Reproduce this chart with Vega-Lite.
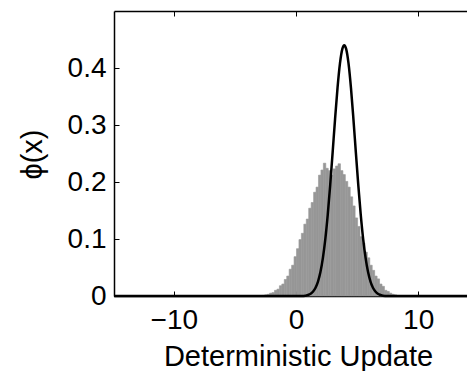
{
  "$schema": "https://vega.github.io/schema/vega-lite/v6.json",
  "width": 353,
  "height": 285,
  "autosize": {"type": "none"},
  "padding": {"left": 114, "top": 11, "right": 0, "bottom": 75},
  "background": "white",
  "config": {
    "view": {"stroke": null},
    "font": "Liberation Sans",
    "axis": {
      "domainColor": "black",
      "domainWidth": 1.5,
      "tickColor": "black",
      "tickSize": -5,
      "tickWidth": 1,
      "grid": false,
      "labelFont": "Liberation Sans",
      "labelFontSize": 28,
      "labelColor": "black",
      "titleFont": "Liberation Sans",
      "titleFontSize": 29,
      "titleFontWeight": "normal",
      "titleColor": "black"
    }
  },
  "datasets": {
    "hist": [
      {"x0": -2.8, "x1": -2.6, "h": 0.001},
      {"x0": -2.6, "x1": -2.4, "h": 0.002},
      {"x0": -2.4, "x1": -2.2, "h": 0.003},
      {"x0": -2.2, "x1": -2.0, "h": 0.005},
      {"x0": -2.0, "x1": -1.8, "h": 0.006},
      {"x0": -1.8, "x1": -1.6, "h": 0.010},
      {"x0": -1.6, "x1": -1.4, "h": 0.012},
      {"x0": -1.4, "x1": -1.2, "h": 0.018},
      {"x0": -1.2, "x1": -1.0, "h": 0.021},
      {"x0": -1.0, "x1": -0.8, "h": 0.029},
      {"x0": -0.8, "x1": -0.6, "h": 0.035},
      {"x0": -0.6, "x1": -0.4, "h": 0.047},
      {"x0": -0.4, "x1": -0.2, "h": 0.054},
      {"x0": -0.2, "x1": 0.0, "h": 0.069},
      {"x0": 0.0, "x1": 0.2, "h": 0.083},
      {"x0": 0.2, "x1": 0.4, "h": 0.099},
      {"x0": 0.4, "x1": 0.6, "h": 0.110},
      {"x0": 0.6, "x1": 0.8, "h": 0.126},
      {"x0": 0.8, "x1": 1.0, "h": 0.135},
      {"x0": 1.0, "x1": 1.2, "h": 0.154},
      {"x0": 1.2, "x1": 1.4, "h": 0.164},
      {"x0": 1.4, "x1": 1.6, "h": 0.182},
      {"x0": 1.6, "x1": 1.8, "h": 0.191},
      {"x0": 1.8, "x1": 2.0, "h": 0.212},
      {"x0": 2.0, "x1": 2.2, "h": 0.221},
      {"x0": 2.2, "x1": 2.4, "h": 0.233},
      {"x0": 2.4, "x1": 2.6, "h": 0.224},
      {"x0": 2.6, "x1": 2.8, "h": 0.220},
      {"x0": 2.8, "x1": 3.0, "h": 0.212},
      {"x0": 3.0, "x1": 3.2, "h": 0.223},
      {"x0": 3.2, "x1": 3.4, "h": 0.228},
      {"x0": 3.4, "x1": 3.6, "h": 0.232},
      {"x0": 3.6, "x1": 3.8, "h": 0.220},
      {"x0": 3.8, "x1": 4.0, "h": 0.213},
      {"x0": 4.0, "x1": 4.2, "h": 0.201},
      {"x0": 4.2, "x1": 4.4, "h": 0.191},
      {"x0": 4.4, "x1": 4.6, "h": 0.174},
      {"x0": 4.6, "x1": 4.8, "h": 0.158},
      {"x0": 4.8, "x1": 5.0, "h": 0.137},
      {"x0": 5.0, "x1": 5.2, "h": 0.122},
      {"x0": 5.2, "x1": 5.4, "h": 0.104},
      {"x0": 5.4, "x1": 5.6, "h": 0.093},
      {"x0": 5.6, "x1": 5.8, "h": 0.077},
      {"x0": 5.8, "x1": 6.0, "h": 0.067},
      {"x0": 6.0, "x1": 6.2, "h": 0.054},
      {"x0": 6.2, "x1": 6.4, "h": 0.045},
      {"x0": 6.4, "x1": 6.6, "h": 0.035},
      {"x0": 6.6, "x1": 6.8, "h": 0.030},
      {"x0": 6.8, "x1": 7.0, "h": 0.021},
      {"x0": 7.0, "x1": 7.2, "h": 0.017},
      {"x0": 7.2, "x1": 7.4, "h": 0.010},
      {"x0": 7.4, "x1": 7.6, "h": 0.008},
      {"x0": 7.6, "x1": 7.8, "h": 0.005},
      {"x0": 7.8, "x1": 8.0, "h": 0.003},
      {"x0": 8.0, "x1": 8.2, "h": 0.002}
    ],
    "curve": [
      {"x": -14.9, "y": 0},
      {"x": 0.6, "y": 0},
      {"x": 1.0, "y": 0.0020},
      {"x": 1.2, "y": 0.0041},
      {"x": 1.4, "y": 0.0080},
      {"x": 1.6, "y": 0.0146},
      {"x": 1.8, "y": 0.0254},
      {"x": 2.0, "y": 0.0421},
      {"x": 2.2, "y": 0.0665},
      {"x": 2.4, "y": 0.0999},
      {"x": 2.6, "y": 0.1429},
      {"x": 2.8, "y": 0.1945},
      {"x": 3.0, "y": 0.2521},
      {"x": 3.2, "y": 0.3109},
      {"x": 3.4, "y": 0.3651},
      {"x": 3.6, "y": 0.4080},
      {"x": 3.8, "y": 0.4339},
      {"x": 3.95, "y": 0.4400},
      {"x": 4.1, "y": 0.4339},
      {"x": 4.3, "y": 0.4080},
      {"x": 4.5, "y": 0.3651},
      {"x": 4.7, "y": 0.3109},
      {"x": 4.9, "y": 0.2521},
      {"x": 5.1, "y": 0.1945},
      {"x": 5.3, "y": 0.1429},
      {"x": 5.5, "y": 0.0999},
      {"x": 5.7, "y": 0.0665},
      {"x": 5.9, "y": 0.0421},
      {"x": 6.1, "y": 0.0254},
      {"x": 6.3, "y": 0.0146},
      {"x": 6.5, "y": 0.0080},
      {"x": 6.7, "y": 0.0041},
      {"x": 6.9, "y": 0.0020},
      {"x": 7.3, "y": 0},
      {"x": 14, "y": 0}
    ]
  },
  "layer": [
    {
      "data": {"name": "hist"},
      "mark": {"type": "bar", "color": "#979797", "stroke": "#979797", "strokeWidth": 0.6, "binSpacing": 0},
      "encoding": {
        "x": {
          "field": "x0",
          "type": "quantitative",
          "bin": "binned",
          "scale": {"domain": [-14.9, 14], "nice": false, "zero": false},
          "axis": {
            "orient": "bottom",
            "values": [-10, 0, 10],
            "labelPadding": 15,
            "title": "Deterministic Update",
            "titleX": 184,
            "titleY": 69,
            "titleBaseline": "alphabetic",
            "titleAlign": "center"
          }
        },
        "x2": {"field": "x1"},
        "y": {
          "field": "h",
          "type": "quantitative",
          "scale": {"domain": [0, 0.5], "nice": false},
          "axis": {
            "values": [0, 0.1, 0.2, 0.3, 0.4],
            "format": "~g",
            "labelPadding": 13,
            "title": "ϕ(x)",
            "titleX": -82,
            "titleY": 143,
            "titleAngle": -90,
            "titleBaseline": "middle",
            "titleAlign": "center"
          }
        }
      }
    },
    {
      "data": {"name": "curve"},
      "mark": {"type": "line", "color": "black", "strokeWidth": 2.5, "interpolate": "monotone"},
      "encoding": {
        "x": {
          "field": "x",
          "type": "quantitative",
          "axis": {"orient": "top", "values": [-10, 0, 10], "labels": false, "title": null}
        },
        "y": {"field": "y", "type": "quantitative"}
      }
    }
  ],
  "resolve": {"axis": {"x": "independent"}}
}
